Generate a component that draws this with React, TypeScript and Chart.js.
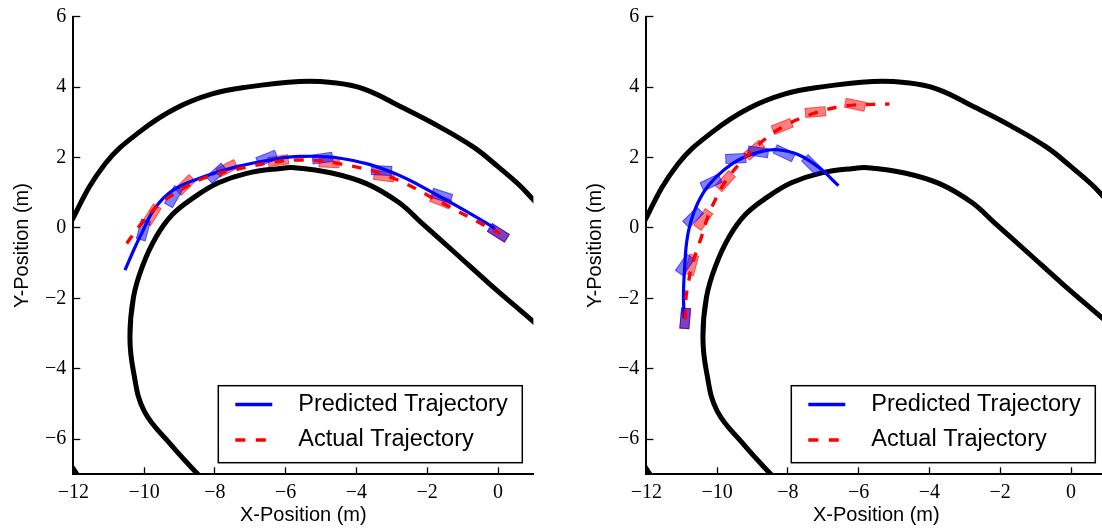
import React, { useEffect, useRef } from "react";
import { Chart, registerables } from "chart.js";

Chart.register(...registerables);

// ---------- axes ----------
const X_MIN = -12;
const X_MAX = 1;
const Y_MIN = -7;
const Y_MAX = 6;
const X_TICKS = [-12, -10, -8, -6, -4, -2, 0];
const Y_TICKS = [-6, -4, -2, 0, 2, 4, 6];
const X_TITLE = "X-Position (m)";
const Y_TITLE = "Y-Position (m)";
const LEGEND_LABELS = ["Predicted Trajectory", "Actual Trajectory"];

// ---------- track boundaries ----------
const outerTrackX = [-11.7, -12.3, -12.7, -12.8, -12.6, -12.0, -11.1, -10.1, -9.1, -8.1, -7.1, -5.6, -4.7, -3.8, -2.7, -1.7, -0.7, 0.0, 0.6, 1.0, 1.5];
const outerTrackY = [-7.3, -6.3, -4.8, -3.0, -1.2, 0.29, 1.82, 2.75, 3.4, 3.8, 4.0, 4.16, 4.13, 3.95, 3.42, 2.9, 2.3, 1.74, 1.22, 0.8, 0.3];
const innerTrackX = [-8.0, -8.48, -9.25, -10.0, -10.3, -10.4, -10.3, -10.05, -9.65, -9.2, -8.6, -7.9, -7.1, -6.15, -5.75, -4.7, -3.7, -2.8, -2.2, -1.2, -0.25, 1.0, 1.5];
const innerTrackY = [-7.5, -7.0, -6.15, -5.2, -4.08, -3.1, -1.97, -1.1, -0.24, 0.38, 0.86, 1.28, 1.55, 1.69, 1.71, 1.56, 1.25, 0.72, 0.18, -0.72, -1.58, -2.66, -3.1];

// ---------- left panel ----------
const leftPredX = [-10.54, -10.28, -10.1, -9.7, -9.17, -8.32, -7.38, -6.44, -5.6, -4.46, -3.05, -1.64, -0.23, -0.08];
const leftPredY = [-1.2, -0.6, -0.22, 0.55, 1.08, 1.45, 1.74, 1.93, 2.03, 1.98, 1.6, 0.89, 0.08, -0.04];
const leftActX = [-10.49, -10.11, -9.74, -9.27, -8.32, -7.38, -6.44, -5.6, -4.46, -3.05, -1.64, -0.23, 0.06];
const leftActY = [-0.44, 0.08, 0.51, 0.89, 1.41, 1.66, 1.85, 1.93, 1.82, 1.45, 0.74, -0.01, -0.17];
const leftPredBoxX = [-10.02, -9.17, -7.95, -6.53, -4.96, -3.29, -1.59, 0.01];
const leftPredBoxY = [-0.06, 0.89, 1.55, 1.98, 1.98, 1.63, 0.91, -0.14];
const leftPredBoxHeading = [75, 60, 42, 22, 8, -3, -18, -32];
const leftActBoxX = [-9.78, -8.84, -7.66, -6.21, -4.77, -3.22, -1.62, 0.01];
const leftActBoxY = [0.37, 1.22, 1.69, 1.91, 1.85, 1.47, 0.77, -0.14];
const leftActBoxHeading = [58, 45, 28, 8, -3, -8, -22, -32];

// ---------- right panel ----------
const rightPredX = [-10.93, -10.95, -10.92, -10.86, -10.75, -10.55, -10.25, -9.8, -9.3, -8.7, -8.3, -7.7, -7.1, -6.57];
const rightPredY = [-2.57, -1.9, -1.2, -0.4, 0.15, 0.7, 1.2, 1.65, 1.98, 2.18, 2.22, 2.08, 1.7, 1.2];
const rightActX = [-10.9, -10.88, -10.8, -10.72, -10.44, -10.25, -10.05, -9.77, -9.35, -8.79, -8.13, -7.18, -6.34, -5.13];
const rightActY = [-2.6, -2.0, -1.5, -1.1, -0.25, 0.35, 0.8, 1.31, 1.84, 2.4, 2.88, 3.28, 3.47, 3.52];
const rightPredBoxX = [-10.9, -10.91, -10.68, -10.17, -9.47, -8.84, -8.1, -7.32];
const rightPredBoxY = [-2.57, -1.05, 0.3, 1.29, 1.97, 2.16, 2.12, 1.79];
const rightPredBoxHeading = [85, 55, 45, 25, 3, -8, -25, -45];
const rightActBoxX = [-10.9, -10.72, -10.39, -9.77, -8.95, -8.16, -7.22, -6.1];
const rightActBoxY = [-2.57, -1.05, 0.24, 1.33, 2.21, 2.88, 3.29, 3.5];
const rightActBoxHeading = [85, 75, 55, 48, 40, 22, 5, -12];

const BLUE = "#0000ff";
const RED = "#ff0000";

function pts(xs: number[], ys: number[]) {
  return xs.map((x, i) => ({ x, y: ys[i] }));
}

function fmt(v: number) {
  return v < 0 ? "\u2212" + Math.abs(v) : String(v);
}

function makeBox(r: number, g: number, b: number) {
  const c = document.createElement("canvas");
  c.width = 21;
  c.height = 10;
  const ctx = c.getContext("2d")!;
  ctx.fillStyle = `rgba(${r},${g},${b},0.5)`;
  ctx.fillRect(0, 0, 21, 10);
  ctx.strokeStyle = `rgba(${r},${g},${b},0.45)`;
  ctx.lineWidth = 1;
  ctx.strokeRect(0.5, 0.5, 20, 9);
  return c;
}

const boxLegendPlugin = {
  id: "boxLegend",
  afterDraw(chart: any) {
    const { ctx, chartArea } = chart;
    const w = 304;
    const h = 77;
    const right = chartArea.right - 11.1;
    const bottom = chartArea.bottom - 11.6;
    const left = right - w;
    const top = bottom - h;
    const items = chart.data.datasets
      .filter((d: any) => d.legendIndex !== undefined)
      .sort((a: any, b: any) => a.legendIndex - b.legendIndex);
    ctx.save();
    ctx.fillStyle = "#ffffff";
    ctx.fillRect(left, top, w, h);
    ctx.strokeStyle = "#000000";
    ctx.lineWidth = 1.5;
    ctx.strokeRect(left, top, w, h);
    const rows = [18.8, 54.3];
    items.forEach((d: any, i: number) => {
      const y = top + rows[i];
      ctx.beginPath();
      ctx.strokeStyle = d.borderColor;
      ctx.lineWidth = 3.6;
      ctx.setLineDash(d.borderDash ? [10, 10.5] : []);
      ctx.moveTo(left + 17, y);
      ctx.lineTo(left + 54, y);
      ctx.stroke();
      ctx.setLineDash([]);
      ctx.fillStyle = "#000000";
      ctx.font = '23.5px "Liberation Sans", Arial, sans-serif';
      ctx.textBaseline = "middle";
      ctx.textAlign = "left";
      ctx.fillText(d.label, left + 80, y);
    });
    ctx.restore();
  },
};

type PanelProps = {
  predX: number[];
  predY: number[];
  actX: number[];
  actY: number[];
  predBoxX: number[];
  predBoxY: number[];
  predBoxH: number[];
  actBoxX: number[];
  actBoxY: number[];
  actBoxH: number[];
  left: number;
};

function Panel(p: PanelProps) {
  const ref = useRef<HTMLCanvasElement>(null);
  useEffect(() => {
    if (!ref.current) return;
    const blueBox = makeBox(0, 0, 255);
    const redBox = makeBox(255, 0, 0);
    const tickFont = { family: '"Liberation Serif", "Times New Roman", serif', size: 20 };
    const titleFont = { family: '"Liberation Sans", Arial, sans-serif', size: 20 };
    const gridOpts = {
      display: true,
      drawOnChartArea: false,
      drawTicks: true,
      tickLength: -7,
      color: "#000000",
      tickColor: "#000000",
      tickWidth: 1.3,
    };
    const chart = new Chart(ref.current, {
      type: "scatter",
      data: {
        datasets: [
          {
            label: LEGEND_LABELS[1],
            legendIndex: 1,
            data: pts(p.actX, p.actY),
            showLine: true,
            borderColor: RED,
            borderWidth: 3.4,
            borderDash: [9.5, 10],
            pointRadius: 0,
            tension: 0.4,
            clip: 0,
            order: 0,
          } as any,
          {
            label: LEGEND_LABELS[0],
            legendIndex: 0,
            data: pts(p.predX, p.predY),
            showLine: true,
            borderColor: BLUE,
            borderWidth: 3.2,
            pointRadius: 0,
            tension: 0.4,
            clip: 0,
            order: 1,
          } as any,
          {
            label: "Predicted poses",
            data: pts(p.predBoxX, p.predBoxY),
            showLine: false,
            pointStyle: blueBox,
            pointRotation: p.predBoxH.map((a) => -a),
            pointRadius: 11,
            order: 2,
          } as any,
          {
            label: "Actual poses",
            data: pts(p.actBoxX, p.actBoxY),
            showLine: false,
            pointStyle: redBox,
            pointRotation: p.actBoxH.map((a) => -a),
            pointRadius: 11,
            order: 3,
          } as any,
          {
            label: "Outer boundary",
            data: pts(outerTrackX, outerTrackY),
            showLine: true,
            borderColor: "#000000",
            borderWidth: 5,
            pointRadius: 0,
            tension: 0.4,
            clip: 0,
            order: 4,
          } as any,
          {
            label: "Inner boundary",
            data: pts(innerTrackX, innerTrackY),
            showLine: true,
            borderColor: "#000000",
            borderWidth: 5,
            pointRadius: 0,
            tension: 0.4,
            clip: 0,
            order: 4,
          } as any,
        ],
      },
      options: {
        animation: false,
        responsive: false,
        maintainAspectRatio: false,
        events: [],
        layout: { padding: { left: 0, top: 16.7, right: 17.6, bottom: 0 } },
        elements: { line: { capBezierPoints: false, borderCapStyle: "butt" } as any },
        plugins: {
          legend: { display: false },
          tooltip: { enabled: false },
        },
        scales: {
          x: {
            type: "linear",
            position: "bottom",
            min: X_MIN,
            max: X_MAX,
            afterBuildTicks: (s: any) => {
              s.ticks = X_TICKS.map((v) => ({ value: v }));
            },
            afterFit: (s: any) => {
              s.height = 56.7;
              s.paddingLeft = 0;
              s.paddingRight = 0;
            },
            ticks: {
              callback: (v: any) => fmt(Number(v)),
              color: "#000000",
              padding: 13,
              maxRotation: 0,
              autoSkip: false,
              font: tickFont,
            },
            grid: gridOpts,
            border: { display: true, color: "#000000", width: 2 },
            title: {
              display: true,
              text: X_TITLE,
              color: "#000000",
              font: titleFont,
              padding: { top: 0, bottom: 4 },
            },
          },
          y: {
            type: "linear",
            position: "left",
            min: Y_MIN,
            max: Y_MAX,
            afterBuildTicks: (s: any) => {
              s.ticks = Y_TICKS.map((v) => ({ value: v }));
            },
            afterFit: (s: any) => {
              s.width = 73.3;
              s.paddingTop = 0;
              s.paddingBottom = 0;
            },
            ticks: {
              callback: (v: any) => fmt(Number(v)),
              color: "#000000",
              padding: 14,
              autoSkip: false,
              font: tickFont,
            },
            grid: gridOpts,
            border: { display: true, color: "#000000", width: 2 },
            title: {
              display: true,
              text: Y_TITLE,
              color: "#000000",
              font: titleFont,
              padding: { top: 10.5, bottom: 0 },
            },
          },
        },
      },
      plugins: [boxLegendPlugin],
    } as any);
    return () => chart.destroy();
  }, []);
  return (
    <div style={{ position: "absolute", left: p.left, top: 0, width: 551, height: 531 }}>
      <canvas ref={ref} width={551} height={531} style={{ display: "block", width: 551, height: 531 }} />
    </div>
  );
}

export default function App() {
  return (
    <div
      style={{
        position: "fixed",
        left: 0,
        top: 0,
        width: 1102,
        height: 531,
        overflow: "hidden",
        background: "#ffffff",
      }}
    >
      <Panel
        left={0}
        predX={leftPredX}
        predY={leftPredY}
        actX={leftActX}
        actY={leftActY}
        predBoxX={leftPredBoxX}
        predBoxY={leftPredBoxY}
        predBoxH={leftPredBoxHeading}
        actBoxX={leftActBoxX}
        actBoxY={leftActBoxY}
        actBoxH={leftActBoxHeading}
      />
      <Panel
        left={573}
        predX={rightPredX}
        predY={rightPredY}
        actX={rightActX}
        actY={rightActY}
        predBoxX={rightPredBoxX}
        predBoxY={rightPredBoxY}
        predBoxH={rightPredBoxHeading}
        actBoxX={rightActBoxX}
        actBoxY={rightActBoxY}
        actBoxH={rightActBoxHeading}
      />
    </div>
  );
}
